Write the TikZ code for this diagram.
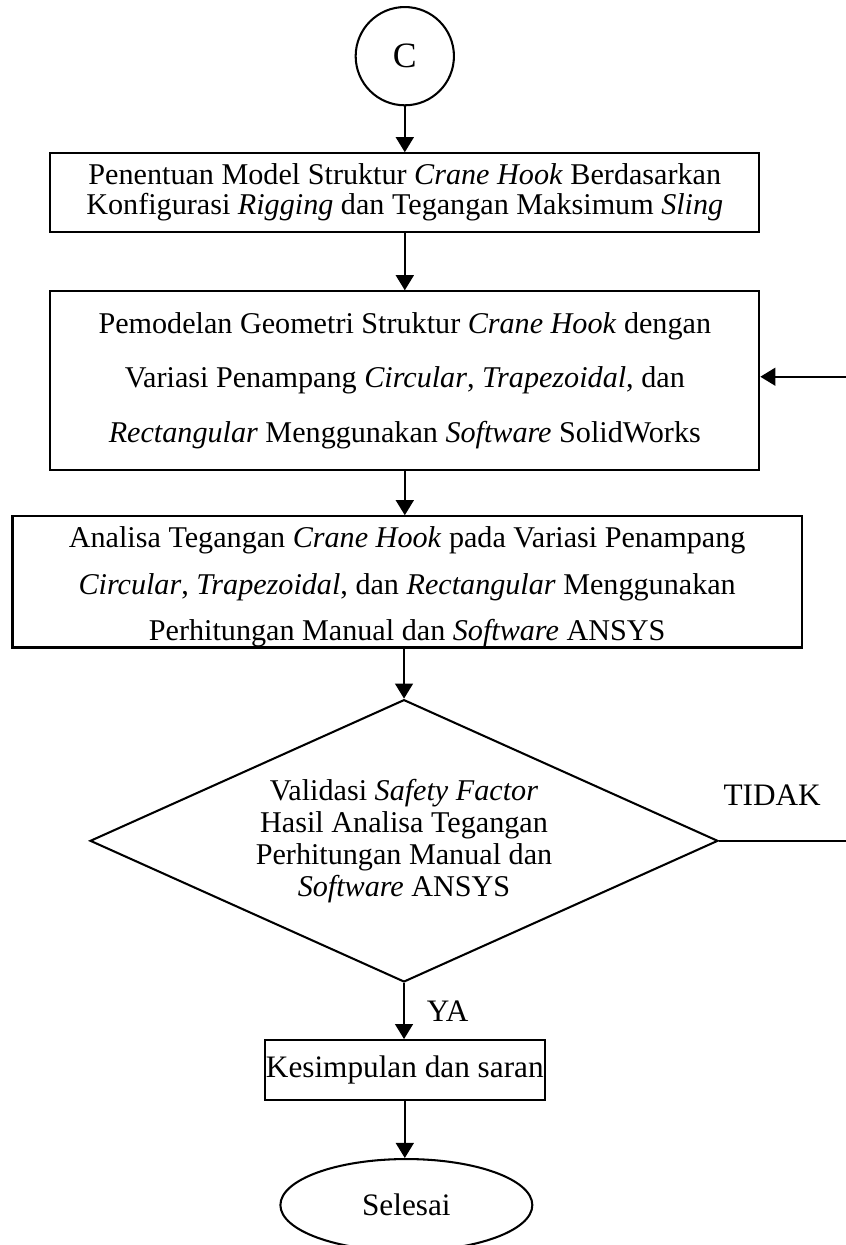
\documentclass[tikz,border=0pt]{standalone}
\usepackage{fontspec}
\setmainfont{Liberation Serif}
\usetikzlibrary{arrows.meta,shapes.geometric}
\tikzset{
	proc/.style={draw, line width=0.75pt, align=center, inner sep=0pt},
	flow/.style={line width=0.75pt, -{Triangle[length=5.5pt,width=6.5pt]}},
	line/.style={line width=0.75pt}
}

\begin{document}
\begin{tikzpicture}[font=\fontsize{11}{11}\selectfont]
		%%%%% START %%%%%
		\useasboundingbox (0, 0) rectangle (10.846, -15.962);
		
		\node[circle, draw, line width=0.75pt, minimum size=1.26cm, inner sep=0pt, font=\fontsize{13}{15}\selectfont] (start) at (5.19, -0.72) {C};
		
		\node[proc, minimum width=9.09cm, minimum height=1.01cm] (model) at (5.19, -2.47)
			{Penentuan Model Struktur \textit{Crane Hook} Berdasarkan\\
			 Konfigurasi \textit{Rigging} dan Tegangan Maksimum \textit{Sling}};
		
		\node[proc, minimum width=9.09cm, minimum height=2.29cm, font=\fontsize{11}{20}\selectfont] (geom) at (5.19, -4.88)
			{Pemodelan Geometri Struktur \textit{Crane Hook} dengan\\
			 Variasi Penampang \textit{Circular}, \textit{Trapezoidal}, dan\\
			 \textit{Rectangular} Menggunakan \textit{Software} SolidWorks};
		
		\node[proc, minimum width=10.12cm, minimum height=1.67cm, font=\fontsize{11}{17}\selectfont] (stress) at (5.22, -7.46)
			{\rule{0pt}{11.5pt}Analisa Tegangan \textit{Crane Hook} pada Variasi Penampang\\
			 \textit{Circular}, \textit{Trapezoidal}, dan \textit{Rectangular} Menggunakan\\
			 Perhitungan Manual dan \textit{Software} ANSYS};
		
		\node[diamond, draw, line width=0.75pt, aspect=2.23, minimum width=8.05cm, minimum height=3.62cm, inner sep=0pt] (valid) at (5.18, -10.78) {};
		\node[align=center, font=\fontsize{11}{11.7}\selectfont] (validtext) at (valid) 
			{Validasi \textit{Safety Factor}\\
			 Hasil Analisa Tegangan\\
			 Perhitungan Manual dan\\
			 \textit{Software} ANSYS};
		
		\node[proc, minimum width=3.59cm, minimum height=0.77cm, font=\fontsize{11.4}{12}\selectfont] (concl) at (5.19, -13.72) {Kesimpulan dan saran};
		
		\node[ellipse, draw, line width=0.75pt, minimum width=3.23cm, minimum height=1.18cm, inner sep=0pt, font=\fontsize{11.4}{12}\selectfont] (finish) at (5.21, -15.45) {Selesai};
		
		\node[font=\fontsize{11.4}{12}\selectfont] (no) at (9.90, -10.19) {TIDAK};
		\node[font=\fontsize{11.4}{12}\selectfont] (yes) at (5.74, -12.97) {YA};
		
		\draw[flow] (start) -- (model);
		\draw[flow] (model) -- (geom);
		\draw[flow] (geom.south) -- (geom.south |- stress.north);
		\draw[flow] (valid.north |- stress.south) -- (valid.north);
		\draw[flow] (valid.south) -- (valid.south |- concl.north);
		\draw[flow] (concl.south) -- (concl.south |- finish.north);
		
		\coordinate (back) at (10.95, -4.83);
		\draw[flow] (valid.east) -| (back) -- (back -| geom.east);
		%%%%% END %%%%%
	\end{tikzpicture}
\end{document}
